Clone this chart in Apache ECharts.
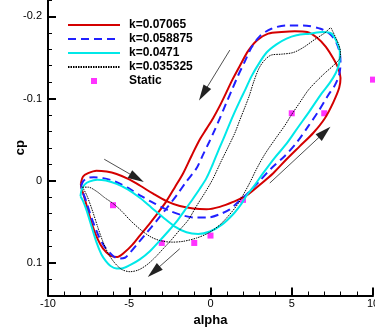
<!DOCTYPE html>
<html>
<head>
<meta charset="utf-8">
<script src="https://cdn.jsdelivr.net/npm/echarts@6/dist/echarts.min.js"></script>
<style>
  html, body { margin: 0; padding: 0; background: #fff; }
  #chart { width: 375px; height: 327px; }
</style>
</head>
<body>
<div id="chart"></div>
<script>
// pitching loops, [alpha, cp]
const loopK07065 = [
  [-7.98, 0.004], [-7.84, -0.005], [-7.53, -0.009], [-7.02, -0.012], [-6.40, -0.011], [-5.78, -0.008],
  [-5.07, -0.002], [-4.35, 0.006], [-3.53, 0.016], [-2.71, 0.025], [-1.89, 0.031], [-1.07, 0.034],
  [-0.25, 0.035], [0.57, 0.032], [1.39, 0.026], [2.22, 0.018], [3.04, 0.005], [3.86, -0.009],
  [4.68, -0.026], [5.50, -0.042], [6.32, -0.058], [7.04, -0.076], [7.55, -0.095], [7.92, -0.113],
  [8.00, -0.125], [7.86, -0.137], [7.55, -0.149], [7.10, -0.163], [6.56, -0.174], [5.95, -0.181],
  [5.19, -0.182], [4.37, -0.181], [3.55, -0.179], [2.87, -0.171], [2.32, -0.158], [1.81, -0.140],
  [1.35, -0.123], [0.94, -0.106], [0.57, -0.091], [0.16, -0.076], [-0.25, -0.063], [-0.66, -0.050],
  [-1.17, -0.030], [-1.68, -0.009], [-2.19, 0.008], [-2.71, 0.025], [-3.22, 0.039], [-3.73, 0.052],
  [-4.31, 0.066], [-4.80, 0.078], [-5.27, 0.087], [-5.74, 0.093], [-6.19, 0.091], [-6.61, 0.083],
  [-6.95, 0.071], [-7.26, 0.055], [-7.53, 0.037], [-7.77, 0.020], [-7.94, 0.009], [-7.98, 0.004]
]
const loopK058875 = [
  [-7.96, 0.007], [-7.84, 0.001], [-7.59, -0.003], [-7.18, -0.004], [-6.61, -0.003], [-5.89, 0.001],
  [-5.07, 0.009], [-4.25, 0.019], [-3.43, 0.028], [-2.61, 0.036], [-1.78, 0.042], [-0.96, 0.045],
  [-0.14, 0.045], [0.57, 0.041], [1.19, 0.035], [1.70, 0.026], [2.22, 0.017], [3.04, 0.000],
  [3.75, -0.015], [4.57, -0.030], [5.29, -0.046], [6.01, -0.066], [6.63, -0.084], [7.24, -0.104],
  [7.65, -0.116], [7.92, -0.129], [8.00, -0.143], [7.96, -0.155], [7.75, -0.168], [7.38, -0.178],
  [6.77, -0.185], [5.70, -0.189], [4.68, -0.189], [3.75, -0.185], [3.04, -0.176], [2.52, -0.162],
  [2.11, -0.145], [1.70, -0.128], [1.33, -0.111], [0.98, -0.095], [0.62, -0.078], [0.27, -0.062],
  [-0.08, -0.047], [-0.45, -0.032], [-0.86, -0.015], [-1.48, 0.001], [-2.05, 0.017], [-2.67, 0.033],
  [-3.32, 0.049], [-3.90, 0.063], [-4.45, 0.076], [-4.92, 0.087], [-5.27, 0.094], [-5.68, 0.095],
  [-6.09, 0.090], [-6.50, 0.081], [-6.85, 0.069], [-7.16, 0.054], [-7.43, 0.039], [-7.67, 0.024],
  [-7.86, 0.014], [-7.96, 0.007]
]
const loopK0471 = [
  [-8.00, 0.019], [-7.94, 0.012], [-7.75, 0.005], [-7.43, 0.001], [-6.97, -0.001], [-6.44, 0.000],
  [-5.78, 0.004], [-5.07, 0.011], [-4.35, 0.021], [-3.63, 0.033], [-2.91, 0.045], [-2.19, 0.056],
  [-1.48, 0.063], [-0.76, 0.065], [-0.04, 0.062], [0.68, 0.054], [1.39, 0.041], [1.91, 0.028],
  [2.26, 0.017], [2.63, 0.008], [3.24, -0.009], [3.96, -0.028], [4.68, -0.045], [5.39, -0.065],
  [6.11, -0.085], [6.83, -0.106], [7.34, -0.119], [7.71, -0.131], [7.92, -0.143], [7.96, -0.156],
  [7.79, -0.168], [7.45, -0.179], [6.93, -0.181], [6.11, -0.179], [5.29, -0.177], [4.68, -0.173],
  [4.06, -0.166], [3.45, -0.156], [2.93, -0.141], [2.52, -0.127], [2.17, -0.112], [1.85, -0.099],
  [1.50, -0.084], [1.15, -0.068], [0.82, -0.052], [0.47, -0.036], [0.12, -0.019], [-0.25, -0.003],
  [-0.66, 0.010], [-1.11, 0.023], [-1.58, 0.036], [-2.09, 0.050], [-2.61, 0.062], [-3.16, 0.074],
  [-3.73, 0.086], [-4.35, 0.096], [-4.96, 0.103], [-5.48, 0.107], [-5.78, 0.107], [-6.15, 0.104],
  [-6.44, 0.098], [-6.71, 0.090], [-7.02, 0.075], [-7.32, 0.056], [-7.63, 0.036], [-7.84, 0.025],
  [-8.00, 0.019]
]
const loopK035325 = [
  [-7.88, 0.008], [-7.53, 0.008], [-7.02, 0.013], [-6.50, 0.021], [-5.99, 0.028], [-5.48, 0.037],
  [-4.96, 0.048], [-4.35, 0.059], [-3.73, 0.068], [-3.12, 0.073], [-2.40, 0.075], [-1.68, 0.074],
  [-0.86, 0.070], [-0.14, 0.064], [0.57, 0.054], [1.19, 0.041], [1.70, 0.028], [2.11, 0.014],
  [2.46, 0.001], [2.83, -0.014], [3.34, -0.032], [3.96, -0.050], [4.57, -0.067], [4.98, -0.080],
  [5.46, -0.094], [6.01, -0.110], [6.52, -0.121], [7.04, -0.131], [7.55, -0.140], [7.96, -0.149],
  [8.00, -0.156], [7.92, -0.164], [7.71, -0.174], [7.49, -0.183], [7.41, -0.186], [7.04, -0.180],
  [6.42, -0.172], [5.70, -0.162], [5.09, -0.156], [4.37, -0.154], [3.75, -0.153], [3.34, -0.147],
  [2.99, -0.137], [2.67, -0.121], [2.38, -0.103], [2.11, -0.089], [1.81, -0.074], [1.50, -0.058],
  [1.09, -0.041], [0.62, -0.022], [0.12, -0.001], [-0.35, 0.015], [-0.86, 0.031], [-1.37, 0.048],
  [-1.89, 0.060], [-2.40, 0.072], [-2.91, 0.083], [-3.43, 0.094], [-3.94, 0.103], [-4.45, 0.109],
  [-4.96, 0.111], [-5.48, 0.108], [-5.95, 0.099], [-6.34, 0.087], [-6.65, 0.073], [-6.95, 0.056],
  [-7.26, 0.037], [-7.59, 0.019], [-7.79, 0.011], [-7.88, 0.008]
]
const staticPoints = [
  [-6, 0.030], [-3, 0.076], [-1, 0.076], [0, 0.067], [2, 0.0235], [5, -0.082], [7, -0.082], [10, -0.123]
]
// direction arrows: [tail, head]
const arrows = [
  [[1.19, -0.159], [-0.45, -0.106]],
  [[-6.54, -0.026], [-4.53, -0.003]],
  [[-1.89, 0.083], [-3.49, 0.111]],
  [[3.65, 0.003], [7.02, -0.059]]
]
const xTicks = [-10, -5, 0, 5, 10]
const yTicks = [-0.2, -0.1, 0, 0.1]

const font = '"Liberation Sans", Arial, sans-serif'
const chart = echarts.init(document.getElementById('chart'))

const lineSeries = (name, data, color, type, width) => ({
  name,
  type: 'line',
  data,
  smooth: 0.3,
  symbol: 'none',
  clip: true,
  lineStyle: { color, width, type },
  itemStyle: { color },
  emphasis: { disabled: true },
})

// legend entries for lines: hide the symbol, keep the line
const lineLegend = (name) => ({ name, itemStyle: { opacity: 0 } })

const option = {
  animation: false,
  backgroundColor: '#fff',
  grid: { left: 48, top: 0, width: 325, height: 295.5, outerBoundsMode: 'none' },
  legend: {
    orient: 'vertical',
    left: 67,
    top: 19,
    padding: 0,
    itemWidth: 52,
    itemHeight: 12,
    itemGap: 2,
    selectedMode: false,
    textStyle: { fontFamily: font, fontSize: 12, fontWeight: 'bold', color: '#000', padding: [0, 0, 0, 4] },
    data: [
      lineLegend('k=0.07065'), lineLegend('k=0.058875'), lineLegend('k=0.0471'), lineLegend('k=0.035325'),
      { name: 'Static', icon: 'path://M0,0M52,12M23,3h6v6h-6z' },
    ],
  },
  xAxis: {
    type: 'value',
    min: -10,
    max: 10,
    interval: 5,
    name: 'alpha',
    nameLocation: 'middle',
    nameGap: 7,
    nameTextStyle: { fontFamily: font, fontSize: 13, fontWeight: 'bold', color: '#000' },
    axisLine: { onZero: false, lineStyle: { color: '#000', width: 2 } },
    axisTick: { inside: true, length: 8, lineStyle: { color: '#000', width: 2 }, customValues: xTicks },
    minorTick: { show: true, splitNumber: 5, length: 4, lineStyle: { color: '#000', width: 1 } },
    axisLabel: { margin: 3, fontFamily: font, fontSize: 11, color: '#000', customValues: xTicks },
    splitLine: { show: false },
  },
  yAxis: [
    {
      type: 'value',
      inverse: true,
      min: -0.22,
      max: 0.14,
      interval: 0.02,
      name: 'cp',
      nameLocation: 'middle',
      nameGap: 21,
      nameRotate: 90,
      nameTextStyle: { fontFamily: font, fontSize: 13, fontWeight: 'bold', color: '#000' },
      axisLine: { show: true, onZero: false, lineStyle: { color: '#000', width: 2 } },
      axisTick: { show: true, inside: true, length: 4, lineStyle: { color: '#000', width: 1 } },
      axisLabel: { show: false },
      splitLine: { show: false },
    },
    {
      type: 'value',
      inverse: true,
      min: -0.22,
      max: 0.14,
      position: 'left',
      offset: 0,
      axisLine: { show: false, onZero: false },
      axisTick: { show: true, inside: true, length: 8, lineStyle: { color: '#000', width: 2 }, customValues: yTicks },
      axisLabel: { show: true, margin: 6, fontFamily: font, fontSize: 11, color: '#000', customValues: yTicks },
      splitLine: { show: false },
    },
  ],
  series: [
    lineSeries('k=0.07065', loopK07065, '#d40000', 'solid', 2),
    lineSeries('k=0.058875', loopK058875, '#2020ff', [8, 5], 2),
    lineSeries('k=0.0471', loopK0471, '#00e8e8', 'solid', 2),
    lineSeries('k=0.035325', loopK035325, '#000', [1.5, 1], 1),
    {
      name: 'Static',
      type: 'scatter',
      data: staticPoints,
      symbol: 'rect',
      symbolSize: 6,
      clip: false,
      itemStyle: { color: '#ff00ff' },
      emphasis: { disabled: true },
    },
    {
      name: 'arrows',
      type: 'scatter',
      data: [],
      silent: true,
      markLine: {
        silent: true,
        symbol: ['none', 'triangle'],
        symbolSize: [9, 16],
        label: { show: false },
        emphasis: { disabled: true },
        lineStyle: { color: '#222', width: 0.8, type: 'solid' },
        itemStyle: { color: '#000' },
        data: arrows.map(([a, b]) => [{ coord: a }, { coord: b }]),
      },
    },
  ],
}

chart.setOption(option)
</script>
</body>
</html>
